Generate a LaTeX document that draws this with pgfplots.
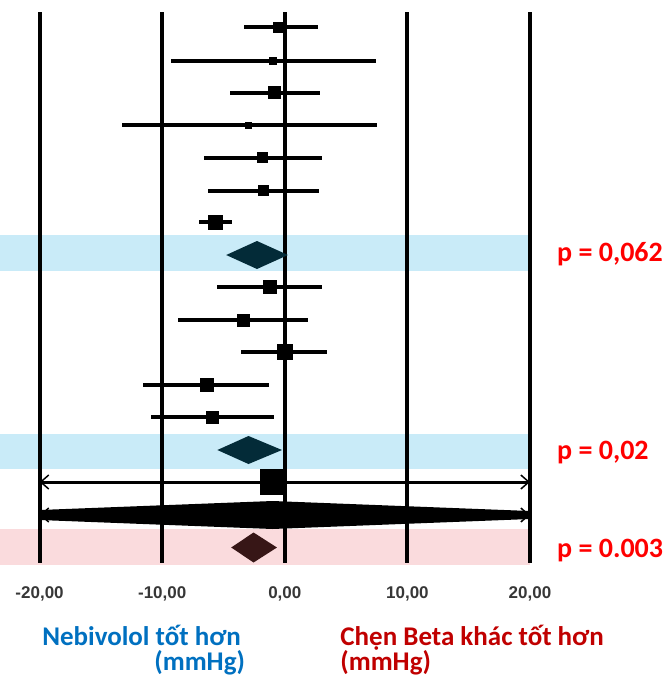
\documentclass[border=0pt]{standalone}
\usepackage{fontspec}
\setmainfont{Carlito}
\newfontfamily\tickfont{Liberation Sans}
\usepackage{pgfplots}
\pgfplotsset{compat=1.18}
\usepackage{pgfplotstable}
\usetikzlibrary{arrows.meta}

\definecolor{bandblue}{RGB}{201,235,248}
\definecolor{bandpink}{RGB}{250,219,221}
\definecolor{diamteal}{RGB}{3,43,56}
\definecolor{diambrown}{RGB}{55,22,22}
\definecolor{pred}{RGB}{255,0,0}
\definecolor{nebiblue}{RGB}{0,112,192}
\definecolor{betared}{RGB}{192,0,0}
\definecolor{tickgray}{RGB}{55,55,55}

% individual studies: row position, mean difference, 95% CI, marker half-size
\pgfplotstableread{
y     est    lo      hi    s
27    -0.50  -3.36   2.70  5
60.5  -0.96  -9.30   7.40  3.5
92.5  -0.86  -4.50   2.90  6
125   -2.95  -13.30  7.50  3
157.5 -1.86  -6.60   3.00  5
190.5 -1.73  -6.30   2.80  5
222   -5.67  -6.98  -4.29  7
287   -1.27  -5.50   3.05  6.5
320   -3.40  -8.75   1.93  6
352   -0.04  -3.55   3.44  7.5
384.5 -6.40  -11.60 -1.30  6.5
416.7 -5.90  -10.90 -0.86  6
}\studies

\tikzset{barb/.style={arrows={Straight Barb[length=8pt,width=14pt,line width=1.5pt]-Straight Barb[length=8pt,width=14pt,line width=1.5pt]}}}

\begin{document}
\begin{tikzpicture}
\begin{axis}[name=ax, scale only axis, width=530pt, height=575pt,
  xmin=-23.23, xmax=20, ymin=0, ymax=575, y dir=reverse,
  clip=false, axis line style={draw=none}, ytick=\empty,
  xtick={-20,-10,0,10,20},
  xticklabels={{-20,00},{-10,00},{0,00},{10,00},{20,00}},
  major tick length=0pt,
  xticklabel style={font=\tickfont\bfseries\fontsize{17}{17}\selectfont,
    text=tickgray, anchor=base, inner sep=0pt, yshift=-23pt},
]
% shaded rows for the subgroup and overall summaries
\addplot[fill=bandblue, draw=none] coordinates {(-23.23,235) (20,235) (20,271) (-23.23,271)} -- cycle;
\addplot[fill=bandblue, draw=none] coordinates {(-23.23,433.5) (20,433.5) (20,468.5) (-23.23,468.5)} -- cycle;
\addplot[fill=bandpink, draw=none] coordinates {(-23.23,529) (20,529) (20,565) (-23.23,565)} -- cycle;

% reference lines
\pgfplotsinvokeforeach{-20,-10,0,10,20}{
  \addplot[black, line width=4pt] coordinates {(#1,12) (#1,563)};
}

% confidence intervals of the studies
\addplot[only marks, mark=none,
  error bars/.cd, x dir=both, x explicit, error mark=none,
  error bar style={line width=4pt, draw=black}]
  table[x=est, y=y, x error plus expr=\thisrow{hi}-\thisrow{est},
        x error minus expr=\thisrow{est}-\thisrow{lo}] {\studies};

% point estimates, sized by weight
\addplot[scatter, only marks, mark=square*, point meta=explicit,
  scatter/use mapped color={draw=black, fill=black},
  visualization depends on={\thisrow{s}\as\msz},
  scatter/@pre marker code/.append style={/tikz/mark size=\msz}]
  table[x=est, y=y, meta=s] {\studies};

% subgroup summaries
\addplot[fill=diamteal, draw=none] coordinates {(-4.78,255) (-2.27,241) (0.26,255) (-2.27,269)} -- cycle;
\addplot[fill=diamteal, draw=none] coordinates {(-5.50,450) (-2.96,436) (-0.23,450) (-2.96,464)} -- cycle;

% wide-interval rows, truncated at the axis limits
\addplot[black, line width=3pt, barb] coordinates {(-20,482) (20,482)};
\addplot[only marks, mark=square*, mark size=12.5pt, black] coordinates {(-0.98,482)};
\addplot[black, line width=1.5pt, barb] coordinates {(-20,515) (20,515)};
\addplot[fill=black, draw=none] coordinates {(-20,510) (-1,501) (20,511) (20,519) (-1,529) (-20,520)} -- cycle;

% overall summary
\addplot[fill=diambrown, draw=none] coordinates {(-4.37,547.5) (-2.55,532.5) (-0.64,547.5) (-2.55,562.5)} -- cycle;

% p values
\node[anchor=base west, text=pred, font=\bfseries\fontsize{28}{28}\selectfont] at (axis cs:21.93,261) {p = 0,062};
\node[anchor=base west, text=pred, font=\bfseries\fontsize{28}{28}\selectfont] at (axis cs:21.93,459) {p = 0,02};
\node[anchor=base west, text=pred, font=\bfseries\fontsize{28}{28}\selectfont] at (axis cs:21.93,557) {p = 0.003};

% direction labels
\node[anchor=base west, inner sep=0pt, text=nebiblue, font=\bfseries\fontsize{27}{27}\selectfont] at (axis cs:-19.8,645) {Nebivolol tốt hơn};
\node[anchor=base east, inner sep=0pt, text=nebiblue, font=\bfseries\fontsize{27}{27}\selectfont] at (axis cs:-3.23,670) {(mmHg)};
\node[anchor=base west, inner sep=0pt, text=betared, font=\bfseries\fontsize{27}{27}\selectfont] at (axis cs:4.52,645) {Chẹn Beta khác tốt hơn};
\node[anchor=base west, inner sep=0pt, text=betared, font=\bfseries\fontsize{27}{27}\selectfont] at (axis cs:4.52,670) {(mmHg)};
\end{axis}
\pgfresetboundingbox
\path[use as bounding box] (ax.south west) ++(0,-102pt) rectangle ++(663pt,677pt);
\end{tikzpicture}
\end{document}
